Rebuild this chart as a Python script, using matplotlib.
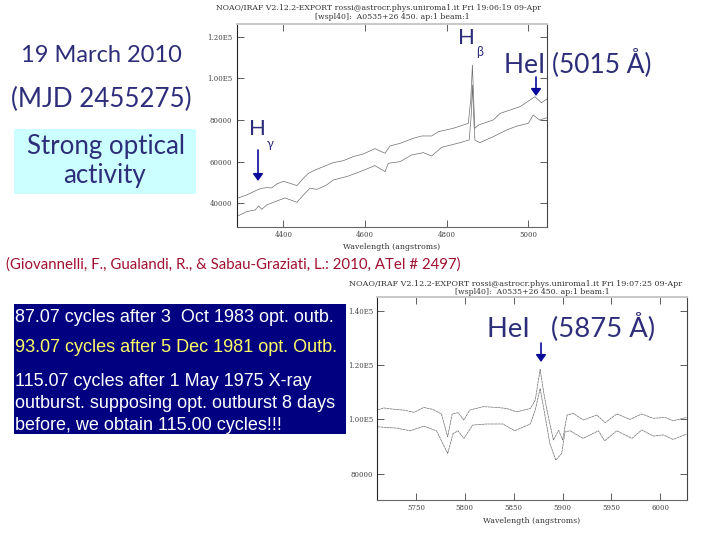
import matplotlib
matplotlib.use("Agg")
import matplotlib.pyplot as plt
from matplotlib.patches import Rectangle

W, H = 720, 540

# Blue spectrum (H-gamma ... HeI 5015)
blue_wave_upper = [4285,4310,4339,4347,4359,4371,4384,4400,4416,4433,4449,4461,4478,4498,4522,4547,4571,4596,4624,4649,4661,4686,4718,4739,4763,4780,4816,4853,4859,4863,4866,4869,4878,4914,4931,4980,5016,5032,5045]
blue_flux_upper = [42240,44000,46700,47200,47500,47360,49280,50560,49600,48480,52000,54400,56000,57600,59520,60480,62400,63680,66240,64000,67520,68800,71200,72320,72320,74400,76000,78400,90000,106400,90000,76000,77600,80000,83200,86400,91200,88300,90000]
blue_wave_lower = [4285,4310,4331,4339,4347,4359,4380,4404,4433,4449,4465,4482,4506,4522,4555,4588,4624,4649,4657,4686,4714,4743,4763,4788,4833,4855,4860,4863,4866,4869,4881,4914,4947,4971,5000,5012,5027,5045]
blue_flux_lower = [33600,36000,36800,38700,37100,39200,40800,42560,40480,44000,47200,46700,48800,51200,52800,55200,58080,55200,59200,60000,63200,64320,62700,66880,69120,70400,82000,96800,82000,70400,69100,72000,75200,77000,78400,82400,80000,81000]

# Red spectrum (HeI 5875)
red_wave_upper = [5710.4,5717,5728,5738,5748,5758,5767,5776,5782.4,5787,5793,5799,5805,5819,5833,5843,5853,5867,5872,5877,5881,5884,5890.6,5896,5900,5904.6,5911,5921.3,5935,5943.5,5955.5,5969,5981,5993,6005,6013,6027]
red_flux_upper = [103440,104200,103700,103400,102600,104400,103700,102000,93600,102000,102460,99750,103440,104700,104400,104000,102800,104000,107100,118400,109200,103400,92400,96000,92400,101600,102200,99750,101600,98800,102000,100000,102000,100400,100700,99500,100700]
red_wave_lower = [5710.4,5720,5730,5744,5758,5771,5782.4,5788,5793,5799,5808,5822,5839,5851,5867,5872,5877,5881,5887,5893,5899,5902.5,5907.6,5921,5936.7,5943,5955.5,5971,5981,5993,6003,6013,6027]
red_flux_lower = [97300,97000,96800,95800,97500,95800,87450,94800,95800,93000,97900,98300,98300,95800,98300,103400,111400,103400,91100,85000,87400,95400,95800,93000,95800,92100,95800,93000,96100,93850,94300,92600,94600]

blue_xticks = [4400,4600,4800,5000]
blue_yticks = [40000,60000,80000,100000,120000]
blue_ylabels = ["40000","60000","80000","1.00E5","1.20E5"]
red_xticks = [5750,5800,5850,5900,5950,6000]
red_yticks = [80000,100000,120000,140000]
red_ylabels = ["80000","1.00E5","1.20E5","1.40E5"]

NAVY = "#2d2d7a"
ARROW = "#0a0a9a"
PLOT = "#6e6e6e"

fig = plt.figure(figsize=(W/100, H/100), dpi=100, facecolor="white")

def axes_px(l, t, r, b):
    return fig.add_axes([l/W, 1-b/H, (r-l)/W, (b-t)/H])

def tx(x, y, s, **kw):
    kw.setdefault("ha", "left")
    kw.setdefault("va", "center")
    return fig.text(x/W, 1-y/H, s, **kw)

def style(ax):
    ax.spines["top"].set_color("#c8c8c8")
    ax.spines["top"].set_linewidth(1.4)
    ax.spines["left"].set_color("#222222")
    ax.spines["bottom"].set_color("#666666")
    ax.spines["right"].set_color("#444444")
    for s in ("left","bottom","right"):
        ax.spines[s].set_linewidth(0.8)
    ax.tick_params(axis="both", which="major", direction="in", length=5, width=0.6,
                   color="#444444", top=True, right=True, labelsize=5, labelcolor="#444444",
                   pad=3)
    for lab in ax.get_xticklabels()+ax.get_yticklabels():
        lab.set_family("DejaVu Serif")

# top spectrum
ax1 = axes_px(236.5, 24, 546.7, 227)
ax1.plot(blue_wave_upper, blue_flux_upper, color=PLOT, lw=0.5)
ax1.plot(blue_wave_lower, blue_flux_lower, color=PLOT, lw=0.5)
ax1.set_xlim(4285, 5045)
ax1.set_ylim(28600, 126100)
ax1.set_xticks(blue_xticks)
ax1.set_yticks(blue_yticks, blue_ylabels)
style(ax1)

# bottom spectrum
ax2 = axes_px(377.3, 296.7, 687.3, 500)
ax2.plot(red_wave_upper, red_flux_upper, color=PLOT, lw=0.5, ls=(0,(4,0.6)))
ax2.plot(red_wave_lower, red_flux_lower, color=PLOT, lw=0.5, ls=(0,(4,0.6)))
ax2.set_xlim(5710.4, 6027.6)
ax2.set_ylim(70300, 145200)
ax2.set_xticks(red_xticks)
ax2.set_yticks(red_yticks, red_ylabels)
style(ax2)

# IRAF headers and x labels
hdr = dict(family="DejaVu Serif", fontsize=5.6, color="#333333", ha="center")
tx(379, 8, "NOAO/IRAF V2.12.2-EXPORT rossi@astrocr.phys.uniroma1.it Fri 19:06:19 09-Apr", **hdr)
tx(392, 17, "[wspl40]:  A0535+26 450. ap:1 beam:1", **hdr)
tx(391.5, 247, "Wavelength (angstroms)", **hdr)
tx(516, 284, "NOAO/IRAF V2.12.2-EXPORT rossi@astrocr.phys.uniroma1.it Fri 19:07:25 09-Apr", **{**hdr, "fontsize": 5.75})
tx(532, 292, "[wspl40]:  A0535+26 450. ap:1 beam:1", **hdr)
tx(532, 521, "Wavelength (angstroms)", **hdr)

# boxes
for (l, t, r, b, c) in [(14, 129, 196, 194, "#ccffff"), (14, 304, 346, 434, "#000080")]:
    fig.add_artist(Rectangle((l/W, 1-b/H), (r-l)/W, (b-t)/H, transform=fig.transFigure,
                             facecolor=c, edgecolor="none", zorder=3))

F = ["Lato", "DejaVu Sans"]
tx(101.5, 55, "19 March 2010", family=F, fontsize=17, color=NAVY, ha="center", zorder=5)
tx(101, 99, "(MJD 2455275)", family=F, fontsize=18.6, color=NAVY, ha="center", zorder=5)
tx(106, 147, "Strong optical", family=F, fontsize=18.6, color=NAVY, ha="center", zorder=5)
tx(105, 176, "activity", family=F, fontsize=18.6, color=NAVY, ha="center", zorder=5)
tx(6, 265, "(Giovannelli, F., Gualandi, R., & Sabau-Graziati, L.: 2010, ATel # 2497)",
   family=F, fontsize=10.85, color="#a01030", zorder=5)

A = ["Liberation Sans", "DejaVu Sans"]
tx(14.5, 317, "87.07 cycles after 3  Oct 1983 opt. outb.", family=A, fontsize=13, color="white", zorder=5)
tx(14.5, 348, "93.07 cycles after 5 Dec 1981 opt. Outb.", family=A, fontsize=13, color="#ffff66", zorder=5)
tx(14.5, 381, "115.07 cycles after 1 May 1975 X-ray", family=A, fontsize=13, color="white", zorder=5)
tx(14.5, 403, "outburst. supposing opt. outburst 8 days", family=A, fontsize=13, color="white", zorder=5)
tx(14.5, 425, "before, we obtain 115.00 cycles!!!", family=A, fontsize=13, color="white", zorder=5)

# line labels
tx(458, 38, "H", family=F, fontsize=16, color=NAVY, zorder=5)
tx(476, 52, "β", family=F, fontsize=9, color=NAVY, zorder=5)
tx(249, 129, "H", family=F, fontsize=16, color=NAVY, zorder=5)
tx(267, 144, "γ", family=F, fontsize=9, color=NAVY, zorder=5)
tx(504, 63, "HeI (5015 Å)", family=F, fontsize=19, color=NAVY, zorder=5)
tx(487, 327, "HeI   (5875 Å)", family=F, fontsize=19.7, color=NAVY, zorder=5)

# arrows
for x, y0, y1 in [(258, 150, 181), (536, 77, 96), (541, 343, 362)]:
    fig.add_artist(matplotlib.patches.FancyArrowPatch(
        (x/W, 1-y0/H), (x/W, 1-y1/H), transform=fig.transFigure,
        arrowstyle="-|>,head_length=0.35,head_width=0.25", mutation_scale=12,
        lw=1.2, color=ARROW, shrinkA=0, shrinkB=0, zorder=6))

fig.savefig("out.png", dpi=100)
